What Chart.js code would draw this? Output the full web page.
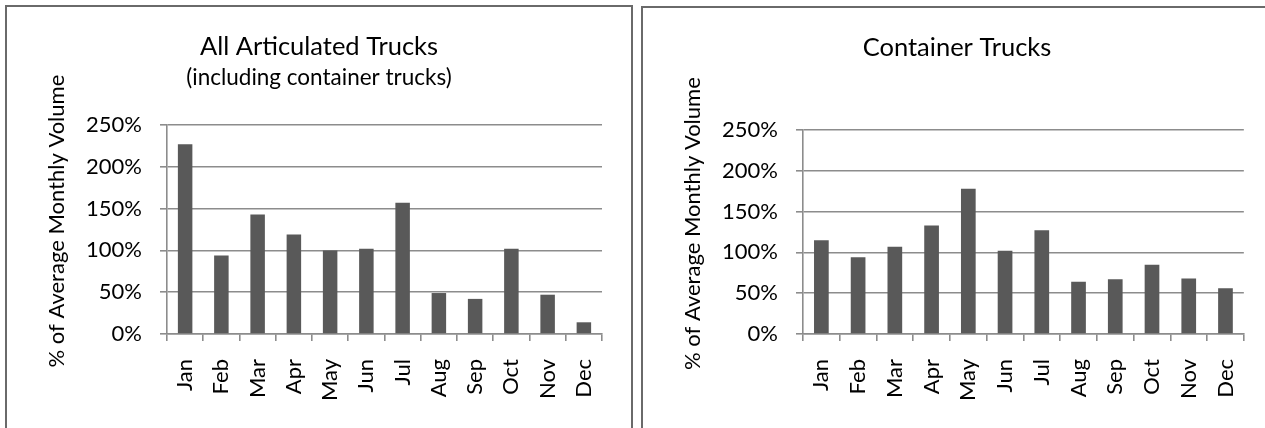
<!DOCTYPE html>
<html>
<head>
<meta charset="utf-8">
<script src="https://cdn.jsdelivr.net/npm/chart.js@4/dist/chart.umd.min.js"></script>
<style>
  html, body { margin: 0; padding: 0; background: #fff; overflow: hidden; width: 1265px; height: 428px; }
  .panel { position: absolute; border: 2px solid #6a6a6a; border-bottom: none; background: #fff; }
  #p1 { left: 5px; top: 5px; width: 624px; height: 423px; }
  #p2 { left: 641px; top: 6px; width: 628px; height: 422px; }
  canvas { display: block; }
</style>
</head>
<body>
<div class="panel" id="p1"><canvas id="c1" width="624" height="421"></canvas></div>
<div class="panel" id="p2"><canvas id="c2" width="628" height="420"></canvas></div>
<script>
// Monthly volume as a share of the average month (percent)
const months = ['Jan', 'Feb', 'Mar', 'Apr', 'May', 'Jun', 'Jul', 'Aug', 'Sep', 'Oct', 'Nov', 'Dec'];
const allArticulated = [227, 94, 143, 119, 100, 102, 157, 49, 42, 102, 47, 14];
const containerTrucks = [115, 94, 107, 133, 178, 102, 127, 64, 67, 85, 68, 56];
const yMin = 0;
const yMax = 250;
const yStep = 50;
// leading spaces nudge the rotated axis title a little toward the top
const yAxisTitle = '   % of Average Monthly Volume';

const FONT = 'Lato';
const GRID = '#8c8c8c';
const GRID_W = 1.6;
const BAR = '#595959';

Chart.defaults.font.family = FONT;
Chart.defaults.color = '#000';

function buildChart(canvasId, cfg) {
  const side = cfg.sidePad;
  const plugins = {
    legend: { display: false },
    tooltip: { enabled: false },
    title: {
      display: true,
      text: cfg.title,
      color: '#000',
      font: { family: FONT, size: 25.5, weight: 'normal', lineHeight: 1.2 },
      padding: cfg.titlePadding
    }
  };
  if (cfg.subtitle) {
    plugins.subtitle = {
      display: true,
      text: cfg.subtitle,
      color: '#000',
      font: { family: FONT, size: 22.5, weight: 'normal', lineHeight: 1.2 },
      padding: cfg.subtitlePadding
    };
  }
  return new Chart(document.getElementById(canvasId), {
    type: 'bar',
    data: {
      labels: months,
      datasets: [{
        data: cfg.values,
        backgroundColor: BAR,
        borderWidth: 0,
        categoryPercentage: 1.0,
        barPercentage: 0.4
      }]
    },
    options: {
      responsive: false,
      animation: false,
      devicePixelRatio: 1,
      // equal side padding keeps the titles centred on the panel
      layout: { padding: { left: side, right: side, top: 0, bottom: 0 } },
      plugins: plugins,
      scales: {
        x: {
          offset: true,
          grid: {
            offset: true,
            drawOnChartArea: false,
            drawTicks: true,
            tickLength: 7,
            color: GRID,
            lineWidth: GRID_W
          },
          border: { display: true, color: GRID, width: GRID_W },
          ticks: {
            autoSkip: false,
            minRotation: 90,
            maxRotation: 90,
            padding: 18,
            color: '#000',
            font: { family: FONT, size: 22 }
          },
          afterFit: (scale) => { scale.height = 94; }
        },
        y: {
          min: yMin,
          max: yMax,
          ticks: {
            stepSize: yStep,
            padding: 18,
            color: '#000',
            font: { family: FONT, size: 22 },
            callback: (v) => v + '%'
          },
          grid: {
            drawTicks: true,
            tickLength: 7,
            color: GRID,
            lineWidth: GRID_W
          },
          border: { display: true, color: GRID, width: GRID_W },
          title: {
            display: true,
            text: yAxisTitle,
            color: '#000',
            font: { family: FONT, size: 22, lineHeight: 1.2 },
            padding: { top: 36.8 - side, bottom: 0 }
          },
          afterFit: (scale) => { scale.width = 160 - side; }
        }
      }
    }
  });
}

function drawAll() {
  buildChart('c1', {
    title: 'All Articulated Trucks',
    subtitle: '(including container trucks)',
    titlePadding: { top: 24.2, bottom: 0 },
    subtitlePadding: { top: 2.2, bottom: 34 },
    values: allArticulated,
    sidePad: 29
  });
  buildChart('c2', {
    title: 'Container Trucks',
    titlePadding: { top: 24.2, bottom: 67.2 },
    values: containerTrucks,
    sidePad: 27
  });
}

Promise.all([
  document.fonts.load('22px Lato'),
  document.fonts.load('25px Lato')
]).then(drawAll, drawAll);
</script>
</body>
</html>
